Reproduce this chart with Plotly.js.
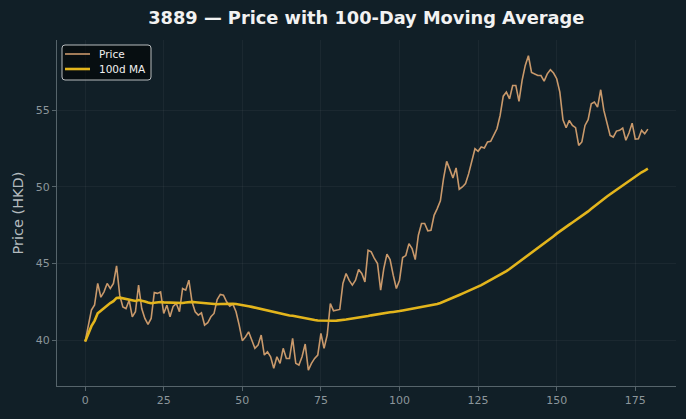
<!DOCTYPE html>
<html>
<head>
<meta charset="utf-8">
<script src="https://cdn.plot.ly/plotly-3.0.1.min.js"></script>
<style>
  html, body { margin: 0; padding: 0; background: #111f27; }
  #chart { width: 686px; height: 419px; }
</style>
</head>
<body>
<div id="chart"></div>
<script>
// Daily closing prices for 3889 (HKD), trading-day index 0..179
const price = [
  39.90, 40.87, 41.96, 42.30, 43.70, 42.80, 43.15, 43.70, 43.37, 43.70,
  44.85, 42.93, 42.17, 42.06, 42.60, 41.52, 41.85, 43.59, 42.06, 41.41,
  41.02, 41.41, 43.10, 43.05, 43.15, 41.74, 42.28, 41.52, 42.20, 42.39,
  41.85, 43.37, 43.26, 43.91, 42.50, 41.85, 41.63, 41.78, 40.98, 41.13,
  41.52, 41.74, 42.65, 42.98, 42.93, 42.50, 42.22, 42.35, 41.85, 40.98,
  39.96, 40.20, 40.54, 40.00, 39.46, 39.67, 40.33, 39.02, 39.24, 38.91,
  38.15, 38.91, 38.48, 39.46, 38.80, 38.80, 40.11, 38.48, 38.37, 38.91,
  39.74, 38.04, 38.48, 38.80, 39.02, 40.43, 39.46, 40.33, 42.39, 41.91,
  41.96, 42.00, 43.70, 44.35, 43.90, 43.59, 43.91, 44.61, 44.35, 43.80,
  45.87, 45.76, 45.33, 45.00, 43.26, 44.67, 45.61, 45.26, 44.24, 43.37,
  43.91, 45.39, 45.52, 46.30, 45.98, 45.26, 46.85, 47.61, 47.61, 47.13,
  47.17, 48.15, 48.59, 49.10, 50.54, 51.67, 51.15, 50.59, 51.24, 49.85,
  50.00, 50.22, 50.87, 51.74, 52.50, 52.33, 52.61, 52.55, 52.94, 52.98,
  53.37, 53.80, 54.67, 55.93, 56.20, 55.76, 56.63, 56.63, 55.59, 56.96,
  57.94, 58.57, 57.48, 57.39, 57.28, 57.28, 56.91, 57.39, 57.66, 57.44,
  57.07, 56.20, 54.39, 53.87, 54.35, 54.02, 53.87, 52.72, 52.94, 54.02,
  54.39, 55.43, 55.54, 55.22, 56.35, 55.00, 54.13, 53.37, 53.26, 53.65,
  53.70, 53.85, 53.05, 53.52, 54.17, 53.13, 53.15, 53.70, 53.48, 53.78
];
const day = price.map((_, i) => i);

const xTicks = [0, 25, 50, 75, 100, 125, 150, 175];
const yTicks = [40, 45, 50, 55];
const seriesNames = ['Price', '100d MA'];
const maWindow = 100;

// 100-day moving average (uses whatever history is available for the first days)
function rollingMean(values, window) {
  const out = [];
  let sum = 0;
  for (let i = 0; i < values.length; i++) {
    sum += values[i];
    if (i >= window) sum -= values[i - window];
    out.push(sum / Math.min(i + 1, window));
  }
  return out;
}
const ma100 = rollingMean(price, maWindow);

const W = 686, H = 419;
const margin = { l: 57, r: 10, t: 40, b: 33 };
const plotW = W - margin.l - margin.r;
const plotH = H - margin.t - margin.b;
// pixel -> paper coordinates, used for the legend box
const px = v => (v - margin.l) / plotW;
const py = v => 1 - (v - margin.t) / plotH;

const bg = '#111f27';
const axisGray = '#56646b';
const tickText = '#8c969b';
const colors = ['#c9996b', '#e3b51c'];
const widths = [1.6, 2.6];

const traces = [
  {
    x: day, y: price, type: 'scatter', mode: 'lines', name: seriesNames[0],
    line: { color: colors[0], width: widths[0] }
  },
  {
    x: day, y: ma100, type: 'scatter', mode: 'lines', name: seriesNames[1],
    line: { color: colors[1], width: widths[1] }
  }
];

// Compact legend: rounded frame, two line samples and their labels
const box = { x0: 62, x1: 151, y0: 45, y1: 80, r: 3 };
function roundedRectPath(b) {
  const L = px(b.x0), R = px(b.x1), T = py(b.y0), B = py(b.y1);
  const rx = b.r / plotW, ry = b.r / plotH;
  return `M ${L + rx},${T} L ${R - rx},${T} Q ${R},${T} ${R},${T - ry} ` +
         `L ${R},${B + ry} Q ${R},${B} ${R - rx},${B} L ${L + rx},${B} ` +
         `Q ${L},${B} ${L},${B + ry} L ${L},${T - ry} Q ${L},${T} ${L + rx},${T} Z`;
}
const rowY = [54, 69];
const shapes = [
  {
    type: 'path', xref: 'paper', yref: 'paper', path: roundedRectPath(box),
    fillcolor: 'rgba(0,0,0,0.55)', line: { color: '#b8bcbe', width: 1 }, layer: 'above'
  }
];
const annotations = [];
seriesNames.forEach((name, k) => {
  shapes.push({
    type: 'line', xref: 'paper', yref: 'paper', layer: 'above',
    x0: px(65), x1: px(90), y0: py(rowY[k]), y1: py(rowY[k]),
    line: { color: colors[k], width: widths[k] }
  });
  annotations.push({
    xref: 'paper', yref: 'paper', x: px(97), y: py(rowY[k]),
    xanchor: 'left', yanchor: 'middle', showarrow: false, text: name,
    font: { family: 'DejaVu Sans, sans-serif', size: 10.5, color: '#f0f0f0' }
  });
});

const layout = {
  width: W, height: H,
  paper_bgcolor: bg, plot_bgcolor: bg,
  margin: margin,
  font: { family: 'DejaVu Sans, sans-serif', color: tickText },
  title: {
    text: '<b>3889 — Price with 100-Day Moving Average</b>',
    font: { family: 'DejaVu Sans, sans-serif', size: 17.8, color: '#f2f2f2' },
    x: 0.534, xanchor: 'center', y: 0.957, yanchor: 'middle'
  },
  showlegend: false,
  shapes: shapes,
  annotations: annotations,
  xaxis: {
    range: [-8.95, 187.95],
    tickvals: xTicks, ticktext: xTicks.map(String),
    showgrid: true, gridcolor: 'rgba(255,255,255,0.045)', gridwidth: 1,
    zeroline: false,
    showline: true, linecolor: axisGray, linewidth: 1,
    ticks: 'outside', ticklen: 4, tickcolor: axisGray,
    tickfont: { size: 11, color: tickText }
  },
  yaxis: {
    range: [37.0, 59.6],
    tickvals: yTicks, ticktext: yTicks.map(String),
    showgrid: true, gridcolor: 'rgba(255,255,255,0.045)', gridwidth: 1,
    zeroline: false,
    showline: true, linecolor: axisGray, linewidth: 1,
    ticks: 'outside', ticklen: 4, tickcolor: axisGray,
    tickfont: { size: 11, color: tickText },
    title: { text: 'Price (HKD)', font: { size: 14.5, color: '#b4bbbf' }, standoff: 8 }
  }
};

Plotly.newPlot('chart', traces, layout, { displayModeBar: false, staticPlot: true });
</script>
</body>
</html>
